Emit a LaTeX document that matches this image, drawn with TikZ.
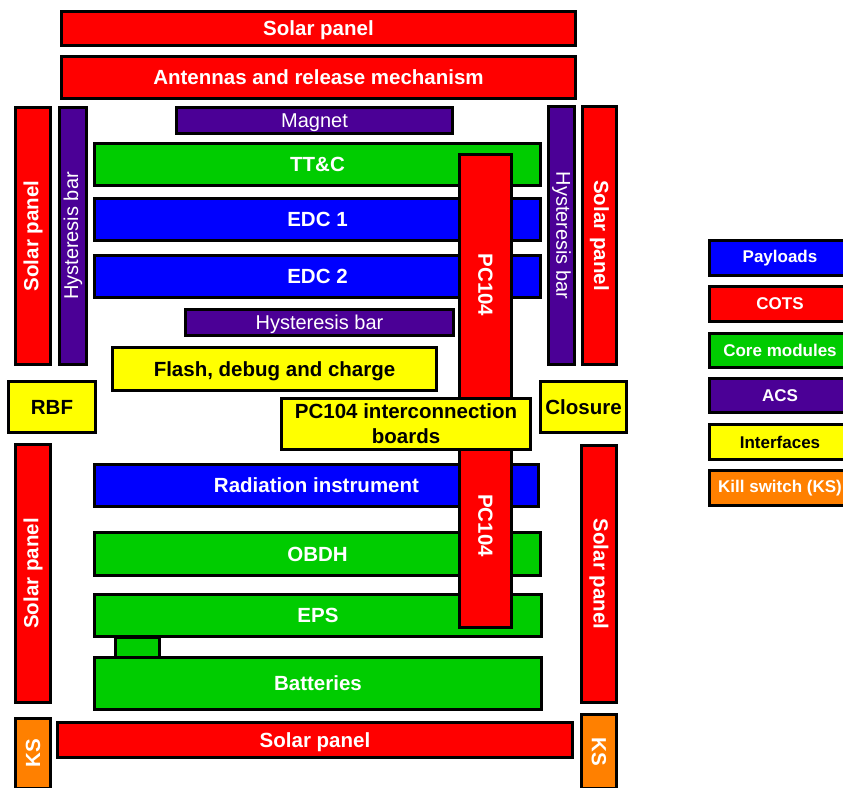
\documentclass[tikz,border=0pt]{standalone}
\usepackage{fontspec}
\setmainfont{Liberation Sans}
\usepackage{graphicx}

\definecolor{cRed}{HTML}{FF0000}
\definecolor{cBlue}{HTML}{0000FF}
\definecolor{cGreen}{HTML}{00CC00}
\definecolor{cPurple}{HTML}{4B0096}
\definecolor{cYellow}{HTML}{FFFF00}
\definecolor{cOrange}{HTML}{FF8000}

% block given by its outer corners (x1,y1)--(x2,y2), in pixel-like units
\newcommand\blk[7]{%
  \pgfmathsetmacro\bw{#5-#3-3}%
  \pgfmathsetmacro\bh{#6-#4-3}%
  \node[#2, minimum width=\bw pt, minimum height=\bh pt] (#1)
    at ({(#3+#5)/2},{(#4+#6)/2}) {#7};}
\newcommand\up[1]{\rotatebox{90}{#1}}
\newcommand\down[1]{\rotatebox{-90}{#1}}

\tikzset{
  blockbase/.style={draw=black, line width=3pt, inner sep=0pt, outer sep=0pt,
    font=\fontsize{20.5}{25}\selectfont\bfseries, text=white,
    text height=14.7pt, text depth=0pt},
  natural/.style={text height={}, text depth={}},
  cots/.style={blockbase, fill=cRed},
  payload/.style={blockbase, fill=cBlue},
  core/.style={blockbase, fill=cGreen},
  acs/.style={blockbase, fill=cPurple, font=\fontsize{20}{24}\selectfont},
  iface/.style={blockbase, fill=cYellow, text=black, align=center},
  kill/.style={blockbase, fill=cOrange},
  legend/.style={natural, font=\fontsize{17}{20}\selectfont\bfseries},
}

\begin{document}
\begin{tikzpicture}[x=1pt,y=-1pt]
\useasboundingbox (0,0) rectangle (843,787);
\clip (0,0) rectangle (843,787);

% top stack
\blk{solarTop}{cots}{60}{10}{577}{47}{Solar panel}
\blk{antennas}{cots}{60}{55}{577}{100}{Antennas and release mechanism}

% side panels and hysteresis bars
\blk{solarL1}{cots,natural}{14}{106}{52}{366}{\up{Solar panel}}
\blk{hystL}{acs,natural}{58}{106}{88}{366}{\up{Hysteresis bar}}
\blk{hystR}{acs,natural}{547}{105}{576}{366}{\down{Hysteresis bar}}
\blk{solarR1}{cots,natural}{581}{105}{618}{366}{\down{Solar panel}}
\blk{solarL2}{cots,natural}{14}{443}{52}{704}{\up{Solar panel}}
\blk{solarR2}{cots,natural}{580}{444}{618}{704}{\down{Solar panel}}

% boards
\blk{magnet}{acs}{175}{106}{454}{135}{Magnet}
\blk{ttc}{core}{93}{142}{542}{187}{TT\&C}
\blk{edc1}{payload}{93}{197}{542}{242}{EDC 1}
\blk{edc2}{payload}{93}{254}{542}{299}{EDC 2}
\blk{hystM}{acs}{184}{308}{455}{337}{Hysteresis bar}
\blk{flash}{iface}{111}{346}{438}{392}{Flash, debug and charge}
\blk{rbf}{iface}{7}{380}{97}{434}{RBF}
\blk{closure}{iface}{539}{380}{628}{434}{Closure}
\blk{radiation}{payload}{93}{463}{540}{508}{Radiation instrument}
\blk{obdh}{core}{93}{531}{542}{577}{OBDH}
\blk{link}{core}{114}{636}{161}{659}{}
\blk{eps}{core}{93}{593}{543}{638}{EPS}
\blk{batteries}{core}{93}{656}{543}{711}{Batteries}

% PC104 stack connectors
\blk{pcA}{cots,natural}{458}{153}{513}{417}{\down{PC104}}
\blk{pcB}{cots,natural}{458}{422}{513}{629}{\down{PC104}}
\blk{interconn}{iface,natural}{280}{397}{532}{451}{PC104 interconnection\\[0pt]boards}

% bottom
\blk{solarBot}{cots}{56}{721}{574}{759}{Solar panel}
\blk{ksL}{kill,natural}{14}{717}{52}{790}{\up{KS}}
\blk{ksR}{kill,natural}{580}{713}{618}{790}{\down{KS}}

% legend
\blk{lgPay}{payload,legend}{708}{239}{852}{277}{Payloads}
\blk{lgCots}{cots,legend}{708}{285}{852}{323}{COTS}
\blk{lgCore}{core,legend}{708}{332}{852}{369}{Core modules}
\blk{lgAcs}{acs,legend}{708}{377}{852}{414}{ACS}
\blk{lgIf}{iface,legend}{708}{423}{852}{461}{Interfaces}
\blk{lgKs}{kill,legend}{708}{469}{852}{507}{Kill switch (KS)}
\end{tikzpicture}
\end{document}
